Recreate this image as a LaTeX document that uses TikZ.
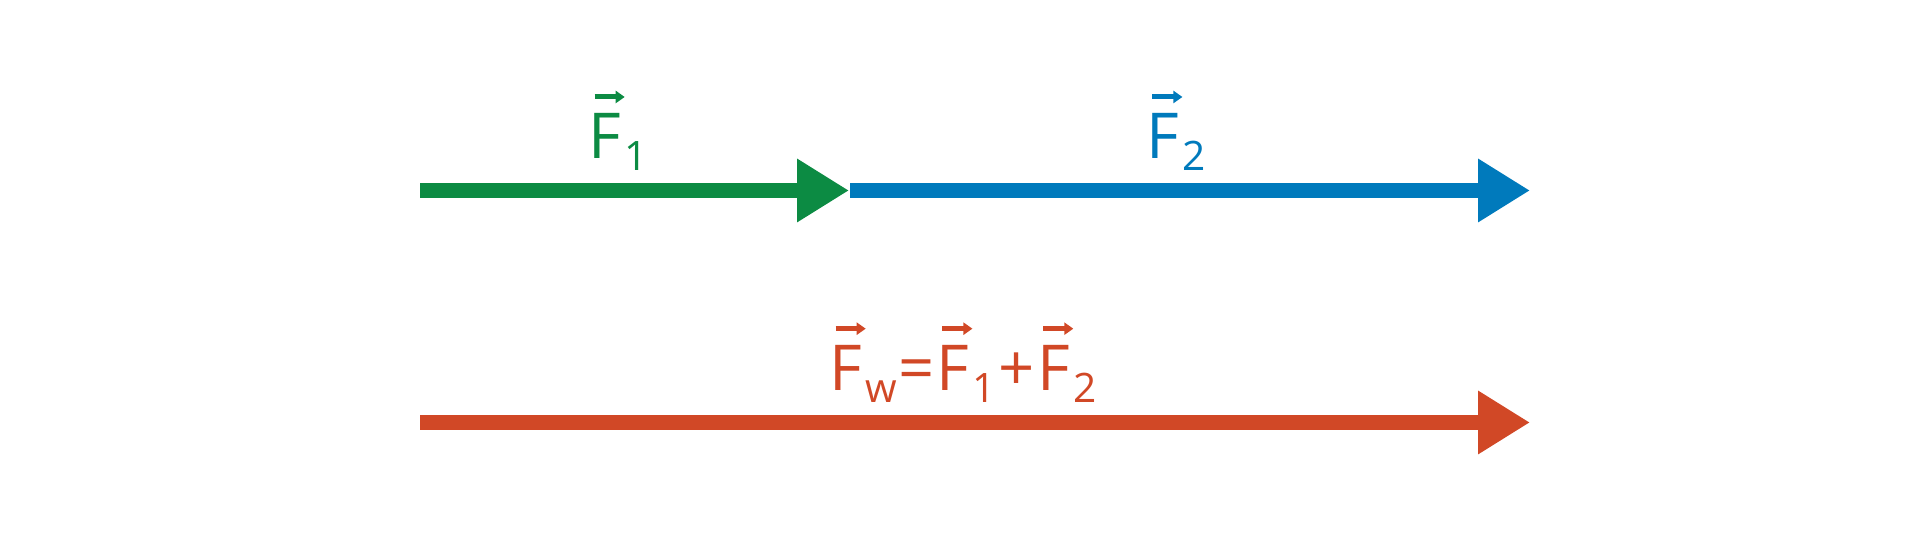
\documentclass[tikz,border=0pt]{standalone}
\usepackage{fontspec}
\setmainfont{Open Sans}
\usetikzlibrary{arrows.meta}

\definecolor{fgreen}{RGB}{12,139,67}
\definecolor{fblue}{RGB}{0,122,188}
\definecolor{fred}{RGB}{209,72,38}

% vector F with its small arrow on top
\newcommand{\fvec}[1]{\leavevmode\rlap{\raisebox{0.62cm}{\tikz[baseline=0pt]{\path (0,0);
  \draw[#1, line width=0.05cm, -{Triangle[length=0.09cm,width=0.12cm]}] (0.062,0) -- (0.362,0);}}}F}
\newcommand{\lowsub}[1]{\hspace{0.06em}\raisebox{-0.117cm}{\fontsize{11.55}{12}\selectfont #1}}

\tikzset{
  forcearrow/.style={line width=0.145cm, -{Triangle[length=0.52cm,width=0.60cm]}},
  forcelabel/.style={inner sep=0pt, anchor=base west, font=\fontsize{18}{20}\selectfont}
}

\begin{document}
\begin{tikzpicture}
  \useasboundingbox (0,0) rectangle (19.2,5.44);

  % first and second force, one after the other
  \coordinate (g0) at (4.20,3.535);
  \coordinate (g1) at (8.49,3.535);
  \coordinate (b0) at (8.50,3.535);
  \coordinate (b1) at (15.30,3.535);
  \draw[forcearrow, fgreen] (g0) -- (g1);
  \draw[forcearrow, fblue] (b0) -- (b1);

  \node[forcelabel, text=fgreen] (F1) at (5.878,3.85) {\fvec{fgreen}\lowsub{1}};
  \node[forcelabel, text=fblue] (F2) at (11.455,3.85) {\fvec{fblue}\lowsub{2}};

  % resulting force
  \coordinate (r0) at (4.20,1.215);
  \coordinate (r1) at (15.30,1.215);
  \draw[forcearrow, fred] (r0) -- (r1);

  \node[forcelabel, text=fred] (Fw) at (8.288,1.533)
    {\fvec{fred}\lowsub{w}\hspace{0.01em}=\hspace{0.03em}\fvec{fred}\lowsub{1}\hspace{0.035em}+\hspace{0.045em}\fvec{fred}\lowsub{2}};

\end{tikzpicture}
\end{document}
